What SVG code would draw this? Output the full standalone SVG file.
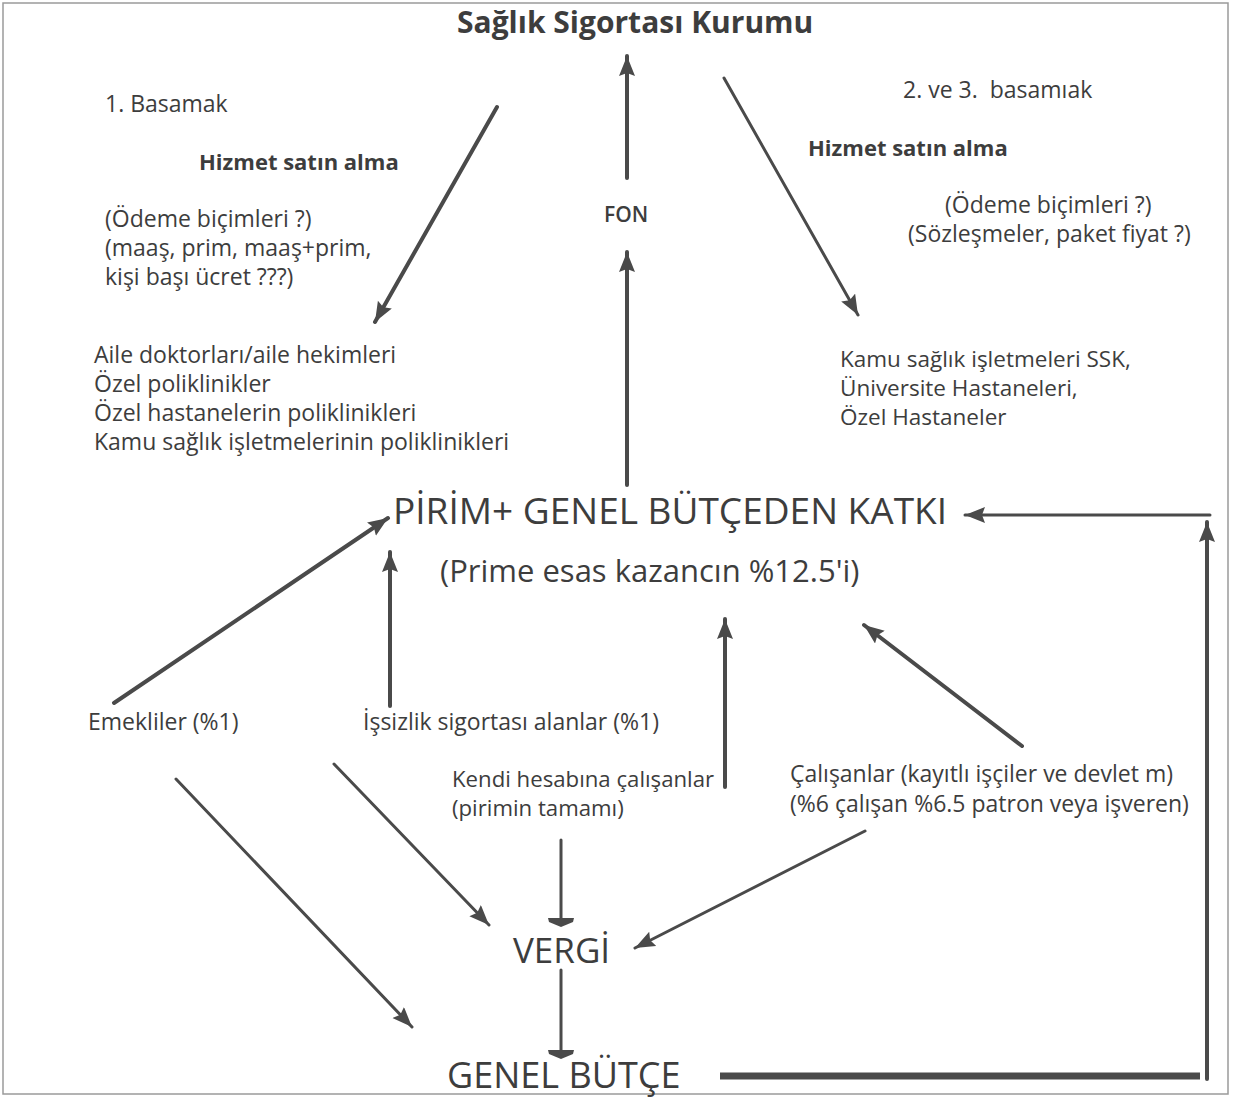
<svg xmlns="http://www.w3.org/2000/svg" width="1234" height="1099" viewBox="0 0 1234 1099">
<style>
text{font-family:"Open Sans",Lato,"Liberation Sans",sans-serif;fill:#3d3d3d;font-size:23px}
.b{font-weight:bold;font-size:22px}
.big{font-size:37px}
.mid{font-size:31px}
.ln{stroke:#4a4a4a;stroke-width:4;fill:none;stroke-linecap:round}
.thin{stroke-width:3}
</style>
<defs>
<marker id="ah" markerUnits="userSpaceOnUse" markerWidth="22" markerHeight="18" refX="20" refY="8" orient="auto" viewBox="0 0 22 18">
<path d="M0,0 L20,8 L0,16 L3,8 z" fill="#4a4a4a"/>
</marker>
<marker id="tee" markerUnits="userSpaceOnUse" markerWidth="12" markerHeight="30" refX="2" refY="14" orient="auto" viewBox="0 0 12 30">
<path d="M0,1 L4,2 L9,14 L4,26 L0,27 z" fill="#4a4a4a"/>
</marker>
</defs>
<rect x="3" y="3" width="1225" height="1091" fill="#fff" stroke="#9a9a9a" stroke-width="1.5"/>

<g id="connectors">
<line class="ln" x1="497" y1="107" x2="375" y2="322" marker-end="url(#ah)"/>
<line class="ln" x1="627" y1="178" x2="627" y2="56" marker-end="url(#ah)"/>
<line class="ln" x1="627" y1="485" x2="627" y2="252" marker-end="url(#ah)"/>
<line class="ln thin" x1="724" y1="78" x2="858" y2="315" marker-end="url(#ah)"/>
<line class="ln" x1="114" y1="703" x2="388" y2="518" marker-end="url(#ah)"/>
<line class="ln" x1="390" y1="706" x2="390" y2="552" marker-end="url(#ah)"/>
<line class="ln" x1="725" y1="787" x2="725" y2="619" marker-end="url(#ah)"/>
<line class="ln" x1="1022" y1="746" x2="864" y2="625" marker-end="url(#ah)"/>
<line class="ln thin" x1="176" y1="779" x2="412" y2="1027" marker-end="url(#ah)"/>
<line class="ln thin" x1="334" y1="764" x2="489" y2="925" marker-end="url(#ah)"/>
<line class="ln thin" x1="561" y1="840" x2="561" y2="920" marker-end="url(#tee)"/>
<line class="ln thin" x1="865" y1="831" x2="635" y2="948" marker-end="url(#ah)"/>
<line class="ln thin" x1="561" y1="970" x2="561" y2="1052" marker-end="url(#tee)"/>
<line class="ln" x1="720" y1="1076" x2="1200" y2="1076" style="stroke-width:7;stroke-linecap:butt"/>
<line class="ln" x1="1207" y1="1079" x2="1207" y2="522" marker-end="url(#ah)"/>
<line class="ln thin" x1="1210" y1="515" x2="965" y2="515" marker-end="url(#ah)"/>
</g>

<g id="ssk"><text class="b" x="457" y="33" style="font-size:30px">Sağlık Sigortası Kurumu</text></g>
<g id="basamak1">
<text x="105" y="112">1. Basamak</text>
<text class="b" x="199" y="170">Hizmet satın alma</text>
<text x="105" y="227">(Ödeme biçimleri ?)</text>
<text x="105" y="256">(maaş, prim, maaş+prim,</text>
<text x="105" y="285">kişi başı ücret ???)</text>
</g>
<g id="fon"><text x="604" y="222" style="font-size:21px;font-weight:600">FON</text></g>
<g id="basamak23">
<text x="903" y="98">2. ve 3.&#160; basamıak</text>
<text class="b" x="808" y="156">Hizmet satın alma</text>
<text x="945" y="213">(Ödeme biçimleri ?)</text>
<text x="908" y="242">(Sözleşmeler, paket fiyat ?)</text>
</g>
<g id="birinci-liste">
<text x="94" y="363">Aile doktorları/aile hekimleri</text>
<text x="94" y="392">Özel poliklinikler</text>
<text x="94" y="421">Özel hastanelerin poliklinikleri</text>
<text x="94" y="450">Kamu sağlık işletmelerinin poliklinikleri</text>
</g>
<g id="ikinci-liste">
<text x="840" y="367" style="font-size:22.5px">Kamu sağlık işletmeleri SSK,</text>
<text x="840" y="396" style="font-size:22.5px">Üniversite Hastaneleri,</text>
<text x="840" y="425" style="font-size:22.5px">Özel Hastaneler</text>
</g>
<g id="pirim">
<text class="big" x="393" y="524">PİRİM+ GENEL BÜTÇEDEN KATKI</text>
<text class="mid" x="440" y="582">(Prime esas kazancın %12.5'i)</text>
</g>
<g id="emekliler"><text x="88" y="730">Emekliler (%1)</text></g>
<g id="issizlik"><text x="363" y="730">İşsizlik sigortası alanlar (%1)</text></g>
<g id="kendi">
<text x="452" y="787" style="font-size:22.2px">Kendi hesabına çalışanlar</text>
<text x="452" y="816" style="font-size:22.2px">(pirimin tamamı)</text>
</g>
<g id="calisanlar">
<text x="790" y="782">Çalışanlar (kayıtlı işçiler ve devlet m)</text>
<text x="790" y="812">(%6 çalışan %6.5 patron veya işveren)</text>
</g>
<g id="vergi"><text class="big" x="513" y="963" style="font-size:35px">VERGİ</text></g>
<g id="genel-butce"><text class="big" x="447" y="1088" style="font-size:36px">GENEL BÜTÇE</text></g>
</svg>
